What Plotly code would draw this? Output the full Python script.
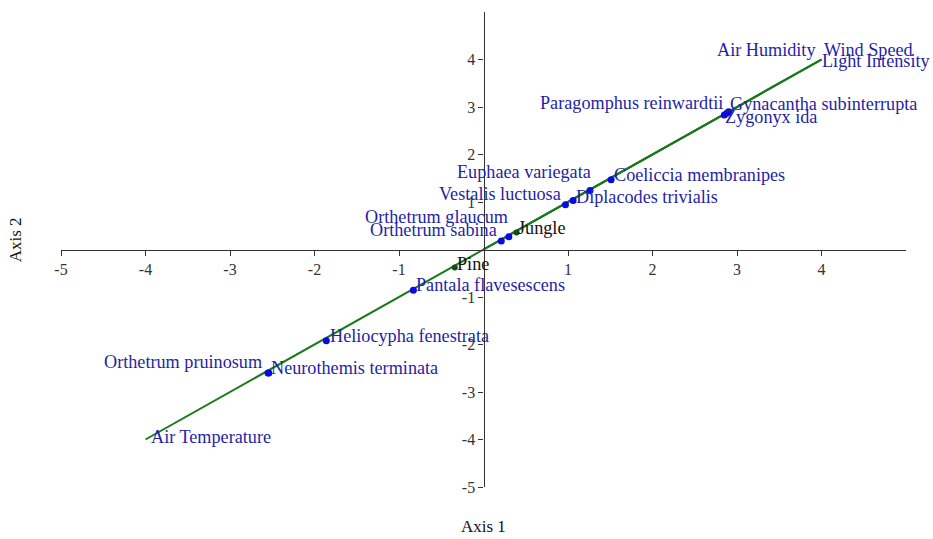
import plotly.graph_objects as go

# Species scores (ordination axes 1 and 2)
species = [
    "Gynacantha subinterrupta", "Zygonyx ida", "Paragomphus reinwardtii",
    "Coeliccia membranipes", "Euphaea variegata", "Diplacodes trivialis",
    "Vestalis luctuosa", "Orthetrum glaucum", "Orthetrum sabina",
    "Pantala flavesescens", "Heliocypha fenestrata", "Neurothemis terminata",
    "Orthetrum pruinosum",
]
species_x = [2.90, 2.85, 2.88, 1.51, 1.26, 1.06, 0.97, 0.30, 0.21, -0.83, -1.86, -2.54, -2.55]
species_y = [2.90, 2.83, 2.87, 1.47, 1.24, 1.03, 0.94, 0.27, 0.18, -0.86, -1.92, -2.60, -2.60]

# Site scores
sites = ["Jungle", "Pine"]
sites_x = [0.39, -0.34]
sites_y = [0.36, -0.38]

# Environmental variable vectors
env_vars = ["Air Temperature", "Light Intensity", "Wind Speed", "Air Humidity"]
env_x = [-4.0, 4.0, 4.0, 4.0]
env_y = [-4.0, 4.0, 4.0, 4.0]

# Axis ticks
tick_vals = [-5, -4, -3, -2, -1, 1, 2, 3, 4]
tick_text = ["-5", "-4", "-3", "-2", "-1", "1", "2", "3", "4"]

# Label placement: (anchor side, x offset px, y offset px)
label_place = {
    "Gynacantha subinterrupta": ("left", -1, 8),
    "Zygonyx ida": ("left", -1, -2),
    "Paragomphus reinwardtii": ("right", -2, 10),
    "Coeliccia membranipes": ("left", 1, 5),
    "Euphaea variegata": ("right", 3, 19),
    "Diplacodes trivialis": ("left", 1, 4),
    "Vestalis luctuosa": ("right", -2, 11),
    "Orthetrum glaucum": ("right", 1, 20),
    "Orthetrum sabina": ("right", -2, 11),
    "Pantala flavesescens": ("left", 1, 5),
    "Heliocypha fenestrata": ("left", 2, 5),
    "Neurothemis terminata": ("left", 0, 5),
    "Orthetrum pruinosum": ("right", -4, 11),
    "Jungle": ("left", 0, 4),
    "Pine": ("left", 0, 4),
    "Air Temperature": ("left", 3, 3),
    "Light Intensity": ("left", -2, -1),
    "Wind Speed": ("left", 0, 10),
    "Air Humidity": ("right", -4, 10),
}

SERIF = "Liberation Serif, Times New Roman, serif"
LABEL_BLUE = "#1f1fa8"
POINT_BLUE = "#0a0ae0"
GREEN = "#1a7a1a"
LABEL_SIZE = 18.2

fig = go.Figure()

# Vectors from the origin to each environmental variable
for name, ex, ey in zip(env_vars, env_x, env_y):
    fig.add_trace(go.Scatter(
        x=[0, ex], y=[0, ey], mode="lines",
        line=dict(color=GREEN, width=2), hoverinfo="skip",
    ))

fig.add_trace(go.Scatter(
    x=species_x, y=species_y, mode="markers", text=species,
    marker=dict(color=POINT_BLUE, size=7), cliponaxis=False,
))

fig.add_trace(go.Scatter(
    x=sites_x, y=sites_y, mode="markers", text=sites,
    marker=dict(color="#1a4a1a", size=6), cliponaxis=False,
))


def label(name, x, y, color):
    side, dx, dy = label_place[name]
    return dict(
        text=name, x=x, y=y, xref="x", yref="y", showarrow=False,
        xanchor=side, yanchor="middle", xshift=dx, yshift=dy,
        font=dict(family=SERIF, size=LABEL_SIZE, color=color),
    )


annotations = []
for n, x, y in zip(env_vars, env_x, env_y):
    annotations.append(label(n, x, y, LABEL_BLUE))
for n, x, y in zip(species, species_x, species_y):
    annotations.append(label(n, x, y, LABEL_BLUE))
for n, x, y in zip(sites, sites_x, sites_y):
    annotations.append(label(n, x, y, "#111111"))

annotations += [
    dict(text="Axis 1", x=0.5, y=-0.084, xref="paper", yref="paper",
         showarrow=False, yanchor="middle",
         font=dict(family=SERIF, size=17, color="#111111")),
    dict(text="Axis 2", x=-0.054, y=0.52, xref="paper", yref="paper",
         showarrow=False, textangle=-90, xanchor="center",
         font=dict(family=SERIF, size=17, color="#111111")),
]

axis_common = dict(
    range=[-5, 5], tickvals=tick_vals, ticktext=tick_text,
    showgrid=False, zeroline=False,
    showline=True, linecolor="#333333", linewidth=1.3,
    ticks="outside", ticklen=5, tickcolor="#333333",
    tickfont=dict(family=SERIF, size=16, color="#333333"),
    anchor="free", position=0.5,
)

fig.update_layout(
    width=933, height=539,
    margin=dict(l=61, r=27, t=12, b=52),
    paper_bgcolor="white", plot_bgcolor="white",
    showlegend=False,
    xaxis=axis_common,
    yaxis=axis_common,
    annotations=annotations,
)

fig.write_html("out.html")
